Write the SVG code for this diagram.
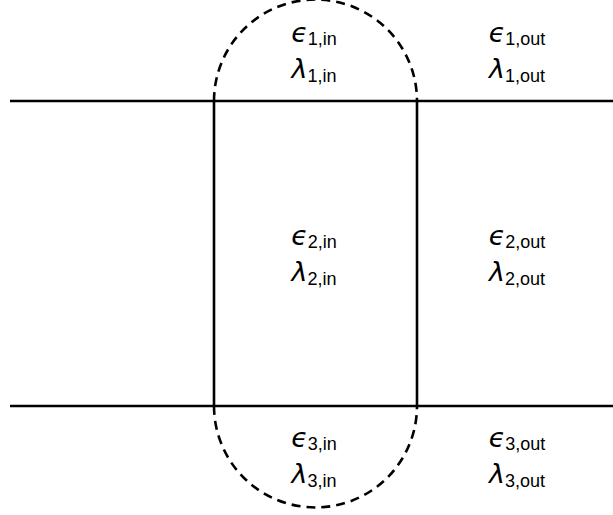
<svg xmlns="http://www.w3.org/2000/svg" width="613" height="515" viewBox="0 0 613 515">
<style>
.ln{stroke:#000;stroke-width:2.6;fill:none}
.ds{stroke:#000;stroke-width:2.6;fill:none;stroke-dasharray:9,6}
.t{font-family:"Liberation Sans",Arial,sans-serif;font-size:27px;text-anchor:middle;fill:#000}
.g{font-family:"DejaVu Sans",sans-serif;font-style:italic}
.s{font-size:18px}
</style>
<rect width="613" height="515" fill="#fff"/>
<g id="connectors">
<line class="ln" x1="10" y1="101" x2="613" y2="101"/>
<line class="ln" x1="10" y1="406" x2="613" y2="406"/>
<line class="ln" x1="214" y1="101" x2="214" y2="406"/>
<line class="ln" x1="417" y1="101" x2="417" y2="406"/>
<path class="ds" d="M214,101 A101.5,101.5 0 0 1 417,101"/>
<path class="ds" d="M214,406 A101.5,101.5 0 0 0 417,406"/>
</g>
<g id="node-1in"><text class="t" x="314" y="42"><tspan class="g">ϵ</tspan><tspan class="s" dy="3">1,in</tspan></text><text class="t" x="314" y="78"><tspan class="g">λ</tspan><tspan class="s" dy="4">1,in</tspan></text></g>
<g id="node-1out"><text class="t" x="517" y="42"><tspan class="g">ϵ</tspan><tspan class="s" dy="3">1,out</tspan></text><text class="t" x="517" y="78"><tspan class="g">λ</tspan><tspan class="s" dy="4">1,out</tspan></text></g>
<g id="node-2in"><text class="t" x="314" y="245"><tspan class="g">ϵ</tspan><tspan class="s" dy="3">2,in</tspan></text><text class="t" x="314" y="281"><tspan class="g">λ</tspan><tspan class="s" dy="4">2,in</tspan></text></g>
<g id="node-2out"><text class="t" x="517" y="245"><tspan class="g">ϵ</tspan><tspan class="s" dy="3">2,out</tspan></text><text class="t" x="517" y="281"><tspan class="g">λ</tspan><tspan class="s" dy="4">2,out</tspan></text></g>
<g id="node-3in"><text class="t" x="314" y="447"><tspan class="g">ϵ</tspan><tspan class="s" dy="3">3,in</tspan></text><text class="t" x="314" y="483"><tspan class="g">λ</tspan><tspan class="s" dy="4">3,in</tspan></text></g>
<g id="node-3out"><text class="t" x="517" y="447"><tspan class="g">ϵ</tspan><tspan class="s" dy="3">3,out</tspan></text><text class="t" x="517" y="483"><tspan class="g">λ</tspan><tspan class="s" dy="4">3,out</tspan></text></g>
</svg>
